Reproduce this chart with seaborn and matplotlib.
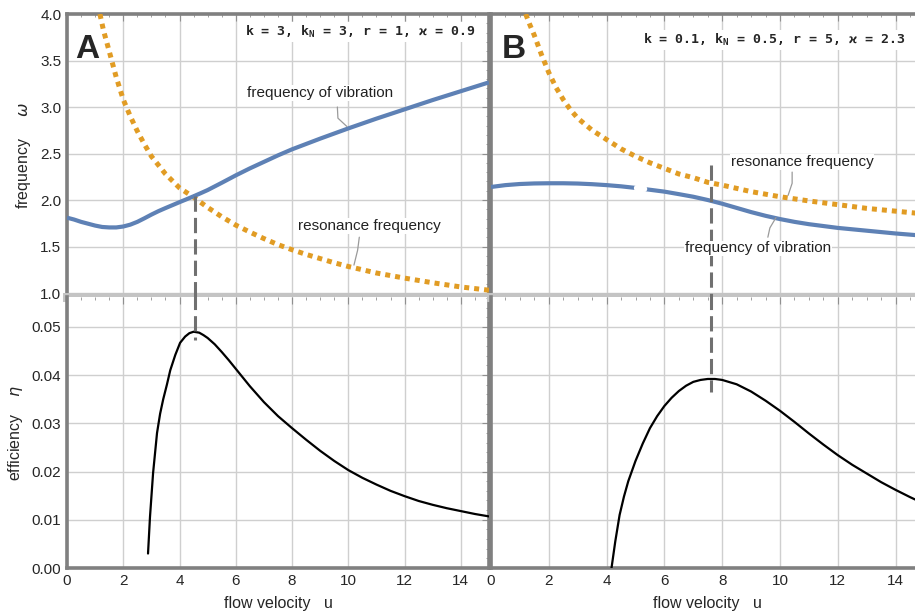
import numpy as np
import pandas as pd
import seaborn as sns
import matplotlib
matplotlib.use('Agg')
import matplotlib.pyplot as plt
from matplotlib.ticker import MultipleLocator

# ---- panel A  (k = 3, kN = 3, r = 1, kappa = 0.9) ----
A_vib_u = [0, 0.25, 0.5, 0.75, 1.0, 1.25, 1.5, 1.75, 2.0, 2.25, 2.5, 2.75, 3.0, 3.25, 3.5,
           3.75, 4.0, 4.25, 4.5, 4.75, 5.0, 5.5, 6, 6.5, 7, 7.5, 8, 9, 10, 11, 12, 13, 14, 15]
A_vib_w = [1.81, 1.79, 1.765, 1.745, 1.725, 1.71, 1.705, 1.705, 1.715, 1.735, 1.765, 1.803,
           1.843, 1.88, 1.913, 1.945, 1.977, 2.008, 2.04, 2.073, 2.107, 2.185, 2.265, 2.34,
           2.41, 2.48, 2.545, 2.66, 2.77, 2.875, 2.975, 3.075, 3.17, 3.265]
A_res_u = [1.17, 1.3, 1.5, 1.75, 2.0, 2.25, 2.5, 2.75, 3.0, 3.5, 4.0, 4.5, 5.0, 5.5, 6.0,
           6.5, 7, 7.5, 8, 8.5, 9, 9.5, 10, 11, 12, 13, 14, 15]
A_res_w = [4.0, 3.82, 3.60, 3.32, 3.08, 2.90, 2.74, 2.60, 2.47, 2.28, 2.13, 2.03, 1.92,
           1.82, 1.73, 1.655, 1.585, 1.52, 1.465, 1.415, 1.37, 1.325, 1.285, 1.215, 1.16,
           1.11, 1.065, 1.03]
A_eff_u = [2.88, 2.95, 3.06, 3.2, 3.31, 3.42, 3.55, 3.67, 3.85, 4.02, 4.2, 4.35, 4.5, 4.7,
           4.85, 5.0, 5.25, 5.5, 5.75, 6.0, 6.5, 7.0, 7.5, 8.0, 8.5, 9.0, 9.5, 10, 10.5,
           11, 11.5, 12, 12.5, 13, 13.5, 14, 14.5, 15]
A_eff = [0.003, 0.0106, 0.0197, 0.028, 0.032, 0.035, 0.038, 0.041, 0.0442, 0.0467, 0.048,
         0.0487, 0.049, 0.0488, 0.0483, 0.0477, 0.0464, 0.0448, 0.0431, 0.0413, 0.0377,
         0.0344, 0.0315, 0.029, 0.0266, 0.0243, 0.0222, 0.0203, 0.0187, 0.0173, 0.016,
         0.0149, 0.0139, 0.0131, 0.0124, 0.0118, 0.0112, 0.0107]
A_mark = (4.55, 2.04, 0.0472)   # u, omega where the dashed line starts, eta where it ends

# ---- panel B  (k = 0.1, kN = 0.5, r = 5, kappa = 2.3) ----
B_vib_u = [0, 0.5, 1, 1.5, 2, 2.5, 3, 3.5, 4, 4.5, 5, 5.5, 6, 6.5, 7, 7.5, 8, 8.5, 9, 9.5,
           10, 10.5, 11, 11.5, 12, 13, 14, 15]
B_vib_w = [2.14, 2.16, 2.172, 2.178, 2.18, 2.18, 2.177, 2.17, 2.16, 2.147, 2.13, 2.11,
           2.09, 2.063, 2.035, 2.0, 1.96, 1.915, 1.87, 1.83, 1.795, 1.765, 1.74, 1.72,
           1.70, 1.67, 1.64, 1.615]
B_gap_u = [5.05, 5.3]
B_gap_w = [2.128, 2.119]
B_res_u = [1.2, 1.35, 1.5, 1.75, 2.0, 2.25, 2.5, 2.75, 3.0, 3.5, 4.0, 4.5, 5, 5.5, 6, 6.5,
           7, 7.5, 8, 9, 10, 11, 12, 13, 14, 15]
B_res_w = [4.0, 3.88, 3.77, 3.56, 3.37, 3.21, 3.08, 2.97, 2.88, 2.75, 2.65, 2.55, 2.47,
           2.40, 2.34, 2.28, 2.24, 2.19, 2.16, 2.09, 2.035, 1.99, 1.95, 1.91, 1.88, 1.85]
B_eff_u = [4.17, 4.3, 4.45, 4.6, 4.75, 5.0, 5.25, 5.5, 5.75, 6.0, 6.25, 6.5, 6.75, 7.0,
           7.25, 7.5, 7.75, 8.0, 8.5, 9.0, 9.5, 10, 10.5, 11, 11.5, 12, 12.5, 13, 13.5,
           14, 14.5, 15]
B_eff = [0.0, 0.0055, 0.011, 0.0148, 0.018, 0.0222, 0.0258, 0.029, 0.0315, 0.0336, 0.0353,
         0.0367, 0.0378, 0.0386, 0.039, 0.0392, 0.0392, 0.039, 0.0381, 0.0366, 0.0347,
         0.0326, 0.0303, 0.0279, 0.0256, 0.0234, 0.0214, 0.0196, 0.0178, 0.0162, 0.0147,
         0.0133]
B_mark = (7.6, 2.38, 0.0365)

x_ticks = [0, 2, 4, 6, 8, 10, 12, 14]
w_ticks = [1.0, 1.5, 2.0, 2.5, 3.0, 3.5, 4.0]
eta_ticks = [0.00, 0.01, 0.02, 0.03, 0.04, 0.05]

BLUE = '#5e81b5'
ORANGE = '#e19c24'
FRAME = '#808080'
BAND = '#c4c4c4'
GRID = '#cfcfcf'
LEAD = '#9a9a9a'

sns.set_theme(style='white')
plt.rcParams['font.family'] = ['Liberation Sans', 'DejaVu Sans']
plt.rcParams['mathtext.fontset'] = 'dejavusans'

W, H = 915, 616
fig = plt.figure(figsize=(W / 100, H / 100), dpi=100)


def px_axes(x0, y0, x1, y1):
    return fig.add_axes([x0 / W, 1 - y1 / H, (x1 - x0) / W, (y1 - y0) / H])


def style(ax, top):
    ax.set_xlim(0, 15)
    ax.set_xticks(x_ticks)
    ax.xaxis.set_minor_locator(MultipleLocator(0.5))
    if top:
        ax.set_ylim(0.957, 4.0)
        ax.set_yticks(w_ticks)
        ax.yaxis.set_minor_locator(MultipleLocator(0.1))
    else:
        ax.set_ylim(0, 0.0562)
        ax.set_yticks(eta_ticks)
        ax.yaxis.set_minor_locator(MultipleLocator(0.002))
    ax.grid(True, which='major', color=GRID, lw=1.0)
    ax.tick_params(which='both', direction='in', top=True, right=True, color='#909090',
                   labelsize=11, pad=4)
    ax.tick_params(which='major', length=5, width=0.8)
    ax.tick_params(which='minor', length=2.5, width=0.6)
    for s in ax.spines.values():
        s.set_color(FRAME)
        s.set_linewidth(2.6)
    if top:
        ax.spines['bottom'].set_color(BAND)
        ax.spines['bottom'].set_linewidth(6.5)
        ax.tick_params(labelbottom=False)
        ax.set_xlabel('')
    else:
        ax.spines['top'].set_visible(False)
        ax.set_xlabel('flow velocity   u', fontsize=11.5, labelpad=6)
    ax.set_ylabel('')


def leader(ax, pts):
    ax.plot([p[0] for p in pts], [p[1] for p in pts], color=LEAD, lw=0.9, zorder=4)


def label(ax, x, y, s):
    ax.text(x, y, s, fontsize=11, color='#222222', ha='center', va='center', zorder=5,
            bbox=dict(facecolor='white', edgecolor='none', pad=0.5))


def panel(x0, x1, vib_u, vib_w, res_u, res_w, eff_u, eff, mark, letter, params):
    ax_t = px_axes(x0, 14, x1, 297)
    ax_b = px_axes(x0, 297, x1, 568)
    style(ax_t, True)
    style(ax_b, False)

    sns.lineplot(x=res_u, y=res_w, ax=ax_t, color=ORANGE, lw=3.6,
                 linestyle=(0, (1, 1)), dash_capstyle='butt', zorder=3)
    sns.lineplot(x=vib_u, y=vib_w, ax=ax_t, color=BLUE, lw=3.0, zorder=3,
                 solid_joinstyle='round', solid_capstyle='butt')
    sns.lineplot(x=eff_u, y=eff, ax=ax_b, color='black', lw=1.6, zorder=3,
                 solid_joinstyle='round')

    mu, mw, me = mark
    ax_t.plot([mu, mu], [mw, 0.9], color='#707070', lw=2.2, ls=(0, (5, 2)), zorder=4)
    ax_b.plot([mu, mu], [0.06, me], color='#707070', lw=2.2, ls=(2, (5, 2)), zorder=4)

    ax_t.text(0.019 if letter == 'A' else 0.025, 0.846, letter, transform=ax_t.transAxes,
              fontsize=24, fontweight='bold', va='baseline', ha='left', zorder=6)
    ax_t.text(params[1], params[2], params[0], transform=ax_t.transAxes,
              family=['DejaVu Sans Mono', 'DejaVu Sans'], fontweight='bold',
              fontsize=9.5, ha='right', va='center', zorder=6,
              bbox=dict(facecolor='white', edgecolor='none', pad=1.5))
    return ax_t, ax_b


# panel A
At, Ab = panel(67, 489, A_vib_u, A_vib_w, A_res_u, A_res_w, A_eff_u, A_eff, A_mark, 'A',
               (r'k = 3, k$\mathregular{_N}$ = 3, r = 1, ϰ = 0.9', 0.967, 0.936))
At.set_ylabel(r'frequency     $\omega$', fontsize=11.5, labelpad=5)
Ab.set_ylabel(r'efficiency    $\eta$', fontsize=11.5, labelpad=5)
label(At, 9.0, 3.15, 'frequency of vibration')
leader(At, [(9.61, 3.0), (9.63, 2.88), (9.95, 2.79)])
label(At, 10.75, 1.72, 'resonance frequency')
leader(At, [(10.39, 1.60), (10.33, 1.46), (10.2, 1.30)])

# panel B
Bt, Bb = panel(491, 924.5, B_vib_u, B_vib_w, B_res_u, B_res_w, B_eff_u, B_eff, B_mark, 'B',
               (r'k = 0.1, k$\mathregular{_N}$ = 0.5, r = 5, ϰ = 2.3', 0.955, 0.908))
sns.lineplot(x=B_gap_u, y=B_gap_w, ax=Bt, color='white', lw=4.5, zorder=3.5)
for ax in (Bt, Bb):
    ax.tick_params(labelleft=False)
label(Bt, 10.76, 2.41, 'resonance frequency')
leader(Bt, [(10.42, 2.30), (10.42, 2.18), (10.28, 2.05)])
label(Bt, 9.24, 1.48, 'frequency of vibration')
leader(Bt, [(9.58, 1.60), (9.65, 1.70), (9.86, 1.81)])

fig.savefig('out.png', dpi=100)
